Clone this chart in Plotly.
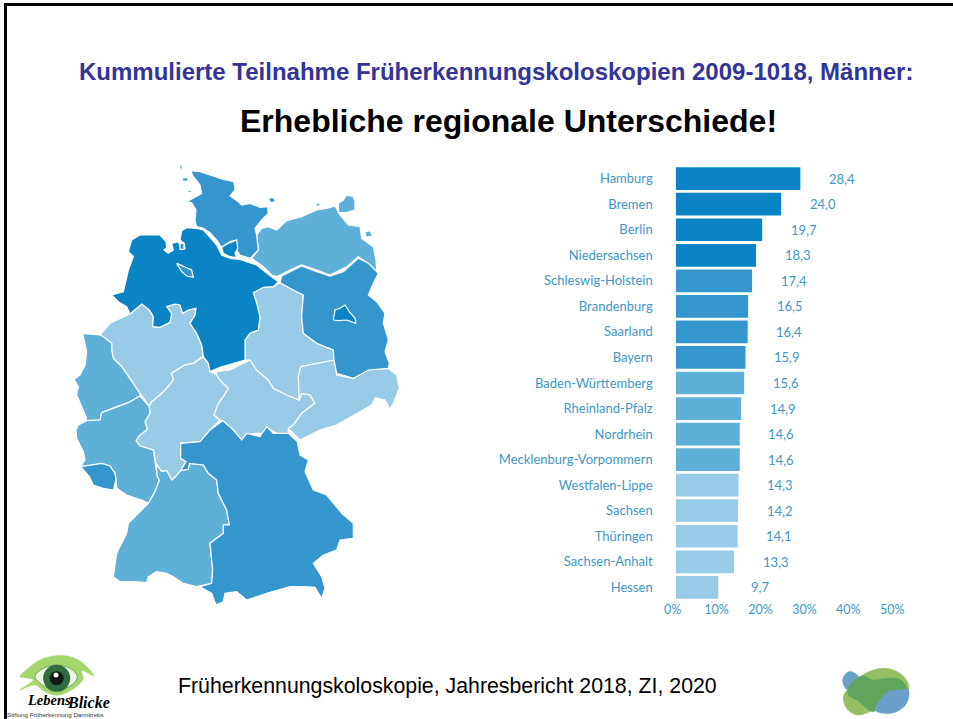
import plotly.graph_objects as go

# ---------- bar chart data ----------
regions = ["Hamburg", "Bremen", "Berlin", "Niedersachsen", "Schleswig-Holstein", "Brandenburg",
           "Saarland", "Bayern", "Baden-Württemberg", "Rheinland-Pfalz", "Nordrhein",
           "Mecklenburg-Vorpommern", "Westfalen-Lippe", "Sachsen", "Thüringen", "Sachsen-Anhalt", "Hessen"]
participation = [28.4, 24.0, 19.7, 18.3, 17.4, 16.5, 16.4, 15.9, 15.6, 14.9, 14.6, 14.6, 14.3, 14.2, 14.1, 13.3, 9.7]
DARK, MID, SOFT, PALE = "#0a84c5", "#3596cd", "#5fb0d9", "#97cbe7"
bar_colors = [DARK] * 4 + [MID] * 4 + [SOFT] * 4 + [PALE] * 5
x_ticks = [0, 10, 20, 30, 40, 50]
TEXT_BLUE = "#3f97c6"

title_1 = "Kummulierte Teilnahme Früherkennungskoloskopien 2009-1018, Männer:"
title_2 = "Erhebliche regionale Unterschiede!"
footer = "Früherkennungskoloskopie, Jahresbericht 2018, ZI, 2020"

# ---------- map outlines, in map units (1 unit = 1/3 px) ----------
niedersachsen = [(365,212),(380,203),(410,205),(430,210),(450,232),(470,255),(485,285),(510,295),(540,298),(590,315),(615,335),(640,355),(655,365),(640,380),(610,382),(580,398),(590,430),(600,470),(595,510),(570,520),(555,540),(555,600),(520,610),(480,622),(450,635),(445,610),(430,590),(425,555),(410,520),(390,490),(405,465),(408,445),(385,450),(368,460),(360,435),(345,432),(320,440),(335,460),(330,487),(300,502),(278,500),(280,470),(268,450),(245,432),(210,462),(200,440),(175,425),(155,405),(190,395),(195,375),(205,330),(220,290),(205,275),(215,240),(240,225),(300,225),(318,245),(320,262),(312,270),(325,280),(340,270),(335,250),(355,245),(365,268),(375,265),(372,250),(360,240)]
schleswig_holstein = [(392,32),(420,35),(450,45),(490,58),(522,65),(525,90),(510,108),(535,125),(545,135),(570,130),(600,142),(622,140),(625,160),(605,180),(585,205),(590,225),(595,270),(570,295),(540,285),(530,270),(530,240),(510,245),(485,262),(470,240),(450,218),(430,205),(410,200),(405,180),(408,150),(395,128),(380,125),(405,112),(425,100),(420,75),(400,50)]
sh_island_a = [(625,115),(640,112),(647,125),(632,128)]
sh_island_b = [(365,55),(382,52),(385,62),(370,64)]
sh_island_c = [(382,92),(395,92),(395,98),(384,97)]
sh_island_d = [(358,16),(364,14),(368,28),(362,28)]
hamburg = [(485,262),(505,250),(530,240),(533,265),(525,280),(530,293),(510,290),(490,280)]
bremen = [(350,310),(375,320),(395,330),(400,352),(380,348),(365,335)]
bremerhaven = [(360,250),(372,250),(372,268),(360,268)]
mecklenburg = [(575,295),(595,270),(590,225),(605,205),(625,200),(650,210),(680,182),(725,170),(770,150),(800,145),(825,138),(840,165),(865,195),(900,200),(905,235),(940,260),(948,300),(950,335),(930,315),(895,290),(860,320),(810,345),(770,330),(725,315),(690,330),(650,350),(635,345),(610,320)]
ruegen = [(835,130),(850,120),(860,105),(880,110),(885,122),(885,150),(860,158),(835,158)]
usedom = [(915,215),(930,212),(938,228),(918,232)]
mv_island = [(768,130),(780,128),(780,138),(768,138)]
brandenburg = [(665,348),(690,335),(725,318),(770,335),(810,348),(850,335),(880,310),(895,295),(925,310),(945,330),(955,340),(940,370),(925,405),(950,425),(975,460),(970,490),(985,540),(975,575),(988,610),(985,625),(925,630),(880,655),(830,640),(822,600),(820,570),(770,550),(730,520),(725,470),(730,405),(690,385),(660,368)]
berlin = [(820,480),(825,450),(840,445),(855,435),(868,455),(885,475),(888,490),(860,480),(835,482)]
sachsen_anhalt = [(580,398),(610,382),(640,380),(660,368),(690,385),(730,405),(725,470),(730,520),(770,550),(820,570),(825,600),(770,610),(722,620),(715,650),(718,720),(680,705),(640,685),(625,660),(590,630),(570,600),(555,600),(555,540),(570,520),(595,510),(600,470),(590,430)]
sachsen = [(722,620),(770,610),(825,600),(830,645),(880,655),(920,630),(985,625),(1010,645),(1018,685),(1000,730),(990,748),(975,720),(945,713),(935,735),(890,760),(830,795),(780,810),(730,835),(720,840),(690,810),(685,805),(700,795),(725,760),(765,730),(750,705),(725,700),(718,720),(715,650)]
thueringen = [(470,645),(470,635),(510,630),(540,615),(570,600),(590,630),(625,660),(640,685),(680,705),(718,720),(725,700),(750,705),(765,730),(725,760),(700,795),(685,805),(685,820),(660,825),(625,805),(610,820),(590,820),(555,825),(545,840),(520,810),(490,785),(480,780),(462,765),(475,730),(490,710),(505,685),(480,660)]
westfalen_lippe = [(120,525),(150,490),(210,462),(245,432),(268,450),(280,470),(278,500),(300,502),(330,487),(335,460),(320,440),(345,432),(360,435),(368,460),(385,450),(408,445),(405,465),(390,490),(410,520),(425,555),(430,590),(420,595),(400,610),(375,615),(350,630),(335,640),(340,660),(320,685),(300,705),(275,725),(268,738),(240,700),(210,655),(185,620),(160,595),(155,570),(155,550),(130,530)]
nordrhein = [(68,520),(120,525),(130,530),(155,550),(155,570),(160,595),(185,620),(210,655),(240,700),(240,708),(205,728),(165,742),(125,758),(120,780),(80,782),(78,770),(65,740),(50,705),(55,680),(42,658),(60,645),(75,615),(80,575),(75,550)]
hessen = [(268,738),(275,725),(300,705),(320,685),(340,660),(335,640),(350,630),(375,615),(400,610),(420,595),(430,590),(445,610),(450,635),(470,645),(480,660),(505,685),(490,710),(475,730),(462,765),(480,780),(450,810),(420,845),(362,850),(362,895),(378,905),(362,932),(345,952),(335,960),(320,932),(305,935),(288,910),(280,870),(240,858),(228,842),(240,825),(262,808),(255,785),(270,760)]
rheinland_pfalz = [(48,810),(55,795),(80,782),(120,780),(125,758),(165,742),(205,728),(240,708),(268,740),(270,760),(255,785),(262,808),(240,825),(228,842),(240,858),(280,870),(285,905),(292,950),(298,960),(285,995),(265,1030),(245,1020),(200,1005),(170,985),(168,960),(165,940),(150,918),(125,910),(100,915),(62,920),(75,900),(70,875),(50,835)]
saarland = [(62,920),(100,915),(125,910),(150,918),(165,940),(168,960),(160,990),(130,985),(100,975),(88,950),(75,935)]
baden_wuerttemberg = [(288,912),(305,935),(320,932),(335,960),(345,952),(362,932),(385,928),(388,910),(430,915),(445,940),(470,960),(475,1000),(500,1050),(508,1095),(490,1095),(490,1120),(450,1150),(458,1230),(455,1270),(410,1280),(370,1270),(340,1250),(320,1240),(290,1235),(265,1250),(260,1268),(220,1265),(180,1265),(160,1250),(170,1180),(200,1120),(205,1090),(265,1030),(285,995),(298,960),(292,950)]
bayern = [(362,850),(420,845),(450,810),(488,782),(520,810),(545,840),(560,820),(600,830),(620,800),(640,820),(685,820),(712,845),(720,885),(745,900),(735,935),(760,990),(800,1005),(845,1060),(880,1090),(880,1135),(840,1140),(830,1170),(790,1185),(760,1210),(785,1250),(795,1285),(785,1315),(765,1282),(735,1280),(690,1280),(620,1300),(560,1320),(530,1295),(495,1300),(490,1325),(468,1335),(455,1300),(420,1280),(455,1270),(458,1230),(450,1150),(490,1120),(490,1095),(508,1095),(500,1050),(475,1000),(470,960),(445,940),(430,915),(388,910),(385,928),(362,932),(378,905),(362,895)]

map_layers = [
    (westfalen_lippe, PALE), (hessen, PALE), (thueringen, PALE), (sachsen_anhalt, PALE), (sachsen, PALE),
    (nordrhein, SOFT), (rheinland_pfalz, SOFT), (baden_wuerttemberg, SOFT), (mecklenburg, SOFT),
    (ruegen, SOFT), (usedom, SOFT), (mv_island, SOFT),
    (schleswig_holstein, MID), (sh_island_a, MID), (sh_island_b, MID), (sh_island_c, MID), (sh_island_d, MID),
    (brandenburg, MID), (bayern, MID), (saarland, MID),
    (niedersachsen, DARK), (hamburg, DARK), (bremen, MID), (bremerhaven, MID), (berlin, DARK),
]

# ---------- logos, in 3x crop units with their crop origin ----------
eye_origin = (0, 640)
eye_lashes = [(60,110),(85,85),(115,62),(150,50),(195,47),(235,60),(265,85),(282,108),(245,92),(250,115),(235,135),(205,155),(170,166),(135,155),(105,135),(60,150),(100,120),(85,115)]
eye_white = [(105,110),(130,85),(170,75),(210,85),(232,110),(215,135),(175,150),(135,140)]
eye_center = [(170, 115)]
eye_glint = [(168, 105)]
blob_origin = (820, 650)
blob_back = [(120,80),(160,60),(200,55),(240,70),(262,95),(265,120),(200,160),(150,185),(110,195),(80,175),(70,140),(90,110)]
blob_top = [(68,90),(80,68),(95,65),(115,80),(100,115),(80,118)]
blob_mid = [(85,115),(110,85),(130,78),(160,90),(200,85),(240,88),(258,108),(262,122),(205,128),(178,168),(160,185),(110,150),(85,135)]
blob_low = [(265,120),(260,160),(230,185),(190,190),(165,180),(180,150),(205,125),(240,120)]


def crop_to_map(pts, origin):
    """Crop units -> map units (both are 1/3 px; only the origin differs)."""
    dx, dy = 3 * (origin[0] - 60), 3 * (origin[1] - 160)
    return [(x + dx, y + dy) for x, y in pts]


fig = go.Figure()


def poly(pts, fill, line="white", width=1.2, shape="linear"):
    xs = [p[0] for p in pts] + [pts[0][0]]
    ys = [p[1] for p in pts] + [pts[0][1]]
    fig.add_trace(go.Scatter(x=xs, y=ys, mode="lines", fill="toself", fillcolor=fill,
                             line=dict(color=line, width=width, shape=shape),
                             hoverinfo="skip", showlegend=False, xaxis="x2", yaxis="y2"))


for pts, col in map_layers:
    poly(pts, col)

poly(crop_to_map(eye_lashes, eye_origin), "#a5d66c", line="#a5d66c", width=0.5, shape="spline")
poly(crop_to_map(eye_white, eye_origin), "#eef5e6", line="#6aa860", width=1, shape="spline")
for pts, size, col in [(eye_center, 27, "#2f6b3d"), (eye_center, 14, "#101a14"), (eye_glint, 5, "#ffffff")]:
    m = crop_to_map(pts, eye_origin)
    fig.add_trace(go.Scatter(x=[p[0] for p in m], y=[p[1] for p in m], mode="markers",
                             marker=dict(size=size, color=col, line=dict(width=0)),
                             hoverinfo="skip", showlegend=False, xaxis="x2", yaxis="y2"))

poly(crop_to_map(blob_back, blob_origin), "#94bf63", line="#94bf63", width=0.5, shape="spline")
poly(crop_to_map(blob_top, blob_origin), "#6a9fc8", line="#6a9fc8", width=0.5, shape="spline")
poly(crop_to_map(blob_mid, blob_origin), "#5fa55c", line="#5fa55c", width=0.5, shape="spline")
poly(crop_to_map(blob_low, blob_origin), "#6a9fc8", line="#6a9fc8", width=0.5, shape="spline")

fig.add_trace(go.Bar(x=participation, y=regions, orientation="h", width=0.89,
                     marker=dict(color=bar_colors, line=dict(width=0)),
                     hoverinfo="skip", showlegend=False))

W, H = 953, 719
annotations = [dict(x=v, y=r, xref="x", yref="y", text=f"{v:.1f}".replace(".", ","), showarrow=False,
                    xanchor="center", yanchor="middle", xshift=41.5,
                    font=dict(family="Lato", size=13, color=TEXT_BLUE))
               for r, v in zip(regions, participation)]


def label(text, px, py, size, color="black", anchor="left", family="Liberation Sans"):
    annotations.append(dict(x=px / W, y=1 - py / H, xref="paper", yref="paper", text=text, showarrow=False,
                            xanchor=anchor, yanchor="middle", font=dict(family=family, size=size, color=color)))


label(f"<b>{title_1}</b>", 76.5, 71, 24, color="#333399")
label(f"<b>{title_2}</b>", 509, 121, 32, anchor="center")
label(footer, 175.5, 686, 21.3)
label("<b><i>Lebens</i></b>", 25, 700, 14.5, family="Liberation Serif")
label("<b><i>Blicke</i></b>", 65, 702, 16, family="Liberation Serif")
label("Stiftung Früherkennung Darmkrebs", 5, 714, 6.2, color="#333333")

fig.update_layout(
    width=W, height=H, margin=dict(l=0, r=0, t=0, b=0, autoexpand=False), paper_bgcolor="white", plot_bgcolor="rgba(0,0,0,0)",
    bargap=0.11, annotations=annotations,
    xaxis=dict(domain=[675.7 / W, 895.2 / W], range=[0, 50], tickvals=x_ticks, ticktext=[f"{t}%" for t in x_ticks],
               showgrid=False, zeroline=False, showline=False, ticks="", ticklabelshift=-3,
               tickfont=dict(family="Lato", size=12.5, color=TEXT_BLUE), anchor="y"),
    yaxis=dict(domain=[1 - 600.1 / H, 1 - 165.9 / H], categoryorder="array", categoryarray=regions, autorange="reversed",
               showgrid=False, zeroline=False, showline=False, ticks="", ticklabelstandoff=22,
               tickfont=dict(family="Lato", size=13, color=TEXT_BLUE), anchor="x"),
    xaxis2=dict(domain=[0, 1], range=[-180, 2679], visible=False, anchor="y2", fixedrange=True),
    yaxis2=dict(domain=[0, 1], range=[1677, -480], visible=False, anchor="x2", fixedrange=True),
    shapes=[
        dict(type="line", xref="paper", yref="paper", x0=4 / W, x1=1, y0=1 - 4.5 / H, y1=1 - 4.5 / H,
             line=dict(color="black", width=3)),
        dict(type="line", xref="paper", yref="paper", x0=5.5 / W, x1=5.5 / W, y0=0, y1=1 - 3 / H,
             line=dict(color="black", width=3)),
    ],
)

fig.write_html("out.html", config={"displayModeBar": False},
               post_script="document.body.style.margin='0';document.body.style.overflow='hidden';")
